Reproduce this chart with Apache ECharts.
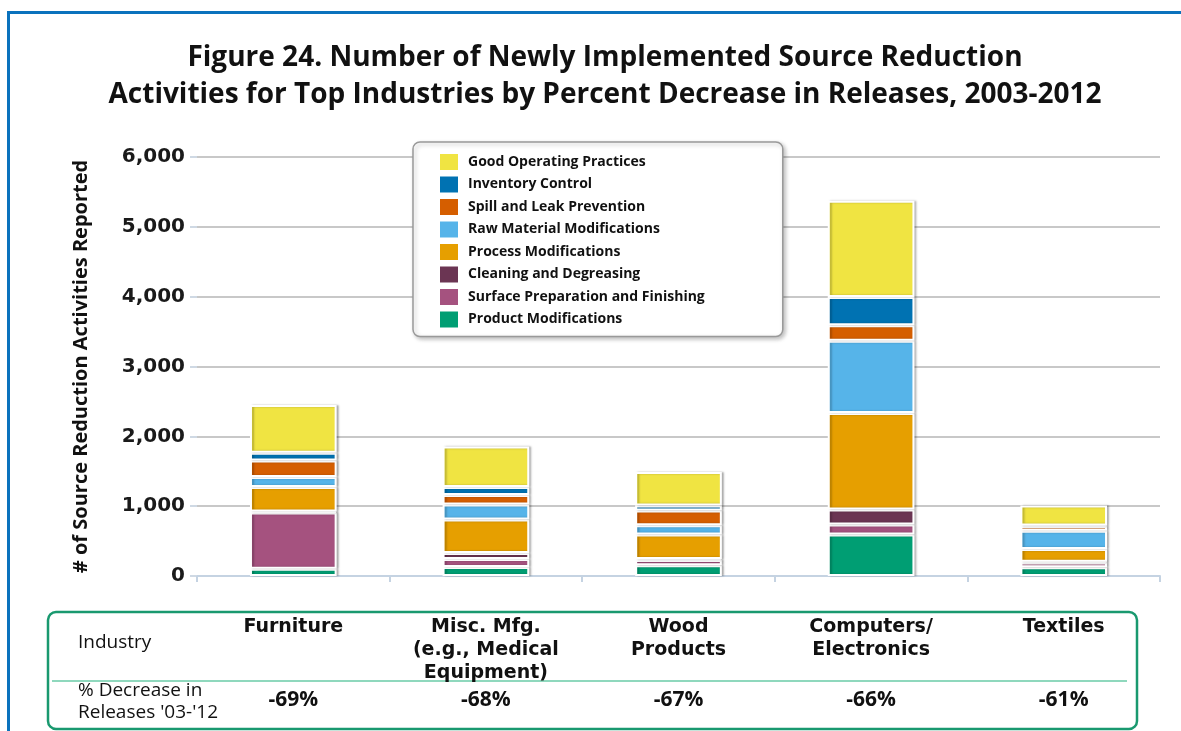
<!DOCTYPE html>
<html>
<head>
<meta charset="utf-8">
<script src="https://cdn.jsdelivr.net/npm/echarts@6/dist/echarts.min.js"></script>
<style>
  html, body { margin: 0; padding: 0; background: #fff; overflow: hidden; width: 1181px; height: 731px; }
  #frame { position: absolute; left: 7px; top: 11px; width: 1300px; height: 800px;
           border-left: 3px solid #0a72bd; border-top: 3px solid #0a72bd; }
  #chart { position: absolute; left: 0; top: 0; width: 1181px; height: 731px; }
</style>
</head>
<body>
<div id="frame"></div>
<div id="chart"></div>
<script>
// industries (table header) and % decrease row
const industries = ['Furniture', 'Misc. Mfg.\n(e.g., Medical\nEquipment)', 'Wood\nProducts', 'Computers/\nElectronics', 'Textiles']
const pctDecrease = ['-69%', '-68%', '-67%', '-66%', '-61%']

// stacked from bottom to top
const productMods = [105, 130, 155, 593, 125]
const surfacePrep = [805, 115, 75, 143, 70]
const cleaning = [15, 83, 12, 217, 10]
const processMods = [350, 482, 351, 1382, 180]
const rawMaterial = [143, 215, 133, 1032, 262]
const spillLeak = [237, 136, 213, 222, 67]
const inventory = [110, 115, 69, 408, 10]
const goodPractices = [685, 580, 480, 1375, 287]

const yTicks = [0, 1000, 2000, 3000, 4000, 5000, 6000]

const seriesDefs = [
  ['Product Modifications', productMods, '#009e73'],
  ['Surface Preparation and Finishing', surfacePrep, '#a5527f'],
  ['Cleaning and Degreasing', cleaning, '#6b3553'],
  ['Process Modifications', processMods, '#e69f00'],
  ['Raw Material Modifications', rawMaterial, '#56b4e9'],
  ['Spill and Leak Prevention', spillLeak, '#d55e00'],
  ['Inventory Control', inventory, '#0072b2'],
  ['Good Operating Practices', goodPractices, '#f0e442']
]

const font = '"Open Sans", "DejaVu Sans", sans-serif'
const wideFont = '"DejaVu Sans", sans-serif'
const myChart = echarts.init(document.getElementById('chart'))

const option = {
  animation: false,
  title: {
    text: 'Figure 24. Number of Newly Implemented Source Reduction\nActivities for Top Industries by Percent Decrease in Releases, 2003-2012',
    left: 600,
    textAlign: 'center',
    top: 35,
    textStyle: { fontFamily: font, fontSize: 28, fontWeight: 'bold', color: '#111', lineHeight: 37 }
  },
  legend: {
    orient: 'vertical',
    left: 413,
    top: 142,
    padding: [10, 78, 7, 25],
    itemWidth: 20,
    itemHeight: 18,
    itemGap: 2.5,
    icon: 'rect',
    backgroundColor: '#fff',
    borderColor: '#999',
    borderWidth: 1.5,
    borderRadius: 7,
    shadowColor: 'rgba(0,0,0,0.25)',
    shadowBlur: 4,
    shadowOffsetX: 2,
    shadowOffsetY: 2,
    textStyle: { fontFamily: font, fontSize: 14, fontWeight: 'bold', color: '#111', padding: [0, 0, 0, 4], lineHeight: 18 },
    data: seriesDefs.map(d => d[0]).reverse()
  },
  grid: { left: 197, right: 21, top: 157, bottom: 155 },
  xAxis: [
    {
      type: 'category',
      data: industries,
      axisLine: { lineStyle: { color: '#c5d3e2', width: 2 } },
      axisTick: { show: true, length: 6, lineStyle: { color: '#c5d3e2', width: 2 } },
      axisLabel: {
        margin: 40,
        verticalAlign: 'top',
        fontFamily: wideFont, fontSize: 19, fontWeight: 'bold', color: '#111', lineHeight: 23
      }
    },
    {
      type: 'category',
      position: 'bottom',
      data: pctDecrease,
      axisLine: { show: false },
      axisTick: { show: false },
      axisLabel: {
        margin: 114,
        verticalAlign: 'top',
        fontFamily: font, fontSize: 21, fontWeight: 'bold', color: '#111'
      }
    }
  ],
  yAxis: {
    type: 'value',
    min: 0,
    max: 6000,
    interval: 1000,
    name: '# of Source Reduction Activities Reported',
    nameLocation: 'middle',
    nameGap: 106,
    nameRotate: 90,
    nameTextStyle: { fontFamily: font, fontSize: 20, fontWeight: 'bold', color: '#111' },
    axisLine: { show: false },
    axisTick: { show: true, length: 7, lineStyle: { color: '#cfd9e4', width: 2 } },
    splitLine: { lineStyle: { color: '#c8c8c8', width: 2 } },
    axisLabel: {
      margin: 12,
      fontFamily: wideFont, fontSize: 20, fontWeight: 'bold', color: '#1a1a1a',
      formatter: v => yTicks.includes(v) ? v.toLocaleString('en-US') : ''
    }
  },
  series: seriesDefs.map(([name, data, color]) => ({
    name,
    type: 'bar',
    stack: 'total',
    xAxisIndex: 0,
    barWidth: '45%',
    data,
    itemStyle: {
      color,
      borderColor: '#fff',
      borderWidth: 2,
      shadowColor: 'rgba(0,0,0,0.25)',
      shadowBlur: 2,
      shadowOffsetX: 2
    }
  })),
  graphic: [
    {
      type: 'rect',
      shape: { x: 48, y: 612, width: 1089, height: 117, r: 8 },
      style: { fill: 'none', stroke: '#19996f', lineWidth: 2.5 }
    },
    {
      type: 'line',
      shape: { x1: 52, y1: 681, x2: 1127, y2: 681 },
      style: { stroke: '#8fd8bd', lineWidth: 2 }
    },
    {
      type: 'text',
      left: 78,
      top: 633,
      style: { text: 'Industry', fontFamily: font, fontSize: 19, fontWeight: 500, fill: '#111' }
    },
    {
      type: 'text',
      left: 78,
      top: 680,
      style: { text: "% Decrease in\nReleases '03-'12", fontFamily: font, fontSize: 19, fontWeight: 500, fill: '#111', lineHeight: 22 }
    }
  ]
}

myChart.setOption(option)
</script>
</body>
</html>
